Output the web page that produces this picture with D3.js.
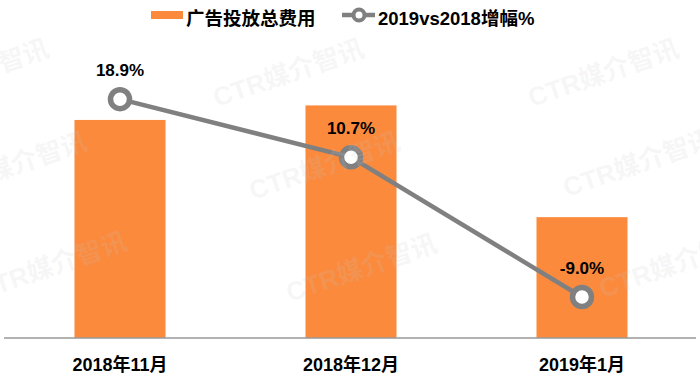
<!DOCTYPE html>
<html><head><meta charset="utf-8">
<script src="https://cdn.jsdelivr.net/npm/d3@7"></script>
<style>html,body{margin:0;padding:0;background:#fff;}svg{display:block;}</style>
</head><body>
<svg id="chart" width="700" height="379"></svg>
<script>
const categories = ["2018年11月", "2018年12月", "2019年1月"];
const spendValues = [240, 256, 133];          // 广告投放总费用 (relative, no axis shown)
const growthValues = [18.9, 10.7, -9.0];      // 2019vs2018增幅%
const growthLabels = ["18.9%", "10.7%", "-9.0%"];
const legendNames = ["广告投放总费用", "2019vs2018增幅%"];
const watermarkText = "CTR媒介智讯";

const W = 700, H = 379;
const orange = "#FB8A3C", gray = "#808080";
const font = "'Liberation Sans', Arial, 'Noto Sans CJK SC', sans-serif";
const svg = d3.select("#chart");

const x = d3.scaleBand().domain(categories).range([4.5, 697.5]).paddingInner(0.606).paddingOuter(0.303);
const yBar = d3.scaleLinear().domain([0, 350]).range([338, 20]);
const yLine = d3.scaleLinear().domain([-15, 30]).range([339.5, 20.5]);

// bars
svg.append("g").selectAll("rect").data(categories).join("rect")
  .attr("x", d => x(d)).attr("width", x.bandwidth())
  .attr("y", (d, i) => yBar(spendValues[i]))
  .attr("height", (d, i) => yBar(0) - yBar(spendValues[i]))
  .attr("fill", orange);

// axis line
const xAxis = svg.append("g").attr("transform", "translate(0,338)")
  .call(d3.axisBottom(x).tickSize(0).tickPadding(20));
xAxis.select(".domain").attr("stroke", "#999").attr("stroke-width", 1.3).attr("d", "M4,0H696");
xAxis.selectAll("text").attr("font-family", font).attr("font-size", 18).attr("font-weight", "bold").attr("fill", "#000");

// line
const pts = categories.map((c, i) => [x(c) + x.bandwidth() / 2, yLine(growthValues[i])]);
svg.append("path").datum(pts).attr("d", d3.line())
  .attr("fill", "none").attr("stroke", gray).attr("stroke-width", 4.5);
svg.append("g").selectAll("circle").data(pts).join("circle")
  .attr("cx", d => d[0]).attr("cy", d => d[1]).attr("r", 9.5)
  .attr("fill", "#fff").attr("stroke", gray).attr("stroke-width", 5.5);

// data labels
svg.append("g").selectAll("text").data(pts).join("text")
  .attr("x", d => d[0]).attr("y", d => d[1] - 23)
  .attr("text-anchor", "middle")
  .attr("font-family", font).attr("font-size", 17).attr("font-weight", "bold").attr("fill", "#000")
  .text((d, i) => growthLabels[i]);

// legend
const lg = svg.append("g");
lg.append("rect").attr("x", 151).attr("y", 11).attr("width", 32).attr("height", 8).attr("fill", orange);
lg.append("text").attr("x", 186).attr("y", 25).attr("font-family", font).attr("font-size", 18.5)
  .attr("font-weight", "bold").attr("fill", "#000").text(legendNames[0]);
lg.append("line").attr("x1", 342).attr("x2", 375).attr("y1", 15).attr("y2", 15)
  .attr("stroke", gray).attr("stroke-width", 4.5);
lg.append("circle").attr("cx", 359).attr("cy", 15).attr("r", 5.5)
  .attr("fill", "#fff").attr("stroke", gray).attr("stroke-width", 4);
lg.append("text").attr("x", 378).attr("y", 25).attr("font-family", font).attr("font-size", 18.5)
  .attr("font-weight", "bold").attr("fill", "#000").text(legendNames[1]);

// watermarks (faint, clipped at the edges as in the reference)
const wmStarts = [[-98, 107], [217, 107], [532, 107],
  [-60, 200], [253, 200], [567, 197],
  [-20, 300], [290, 302], [603, 298]];
svg.append("g").attr("pointer-events", "none").selectAll("text").data(wmStarts).join("text")
  .attr("transform", d => `translate(${d[0]},${d[1]}) rotate(-19)`)
  .attr("font-family", font).attr("font-size", 26).attr("font-weight", "bold")
  .attr("fill", "#c8c8c8").attr("fill-opacity", 0.17)
  .text(watermarkText);
</script>
</body></html>
